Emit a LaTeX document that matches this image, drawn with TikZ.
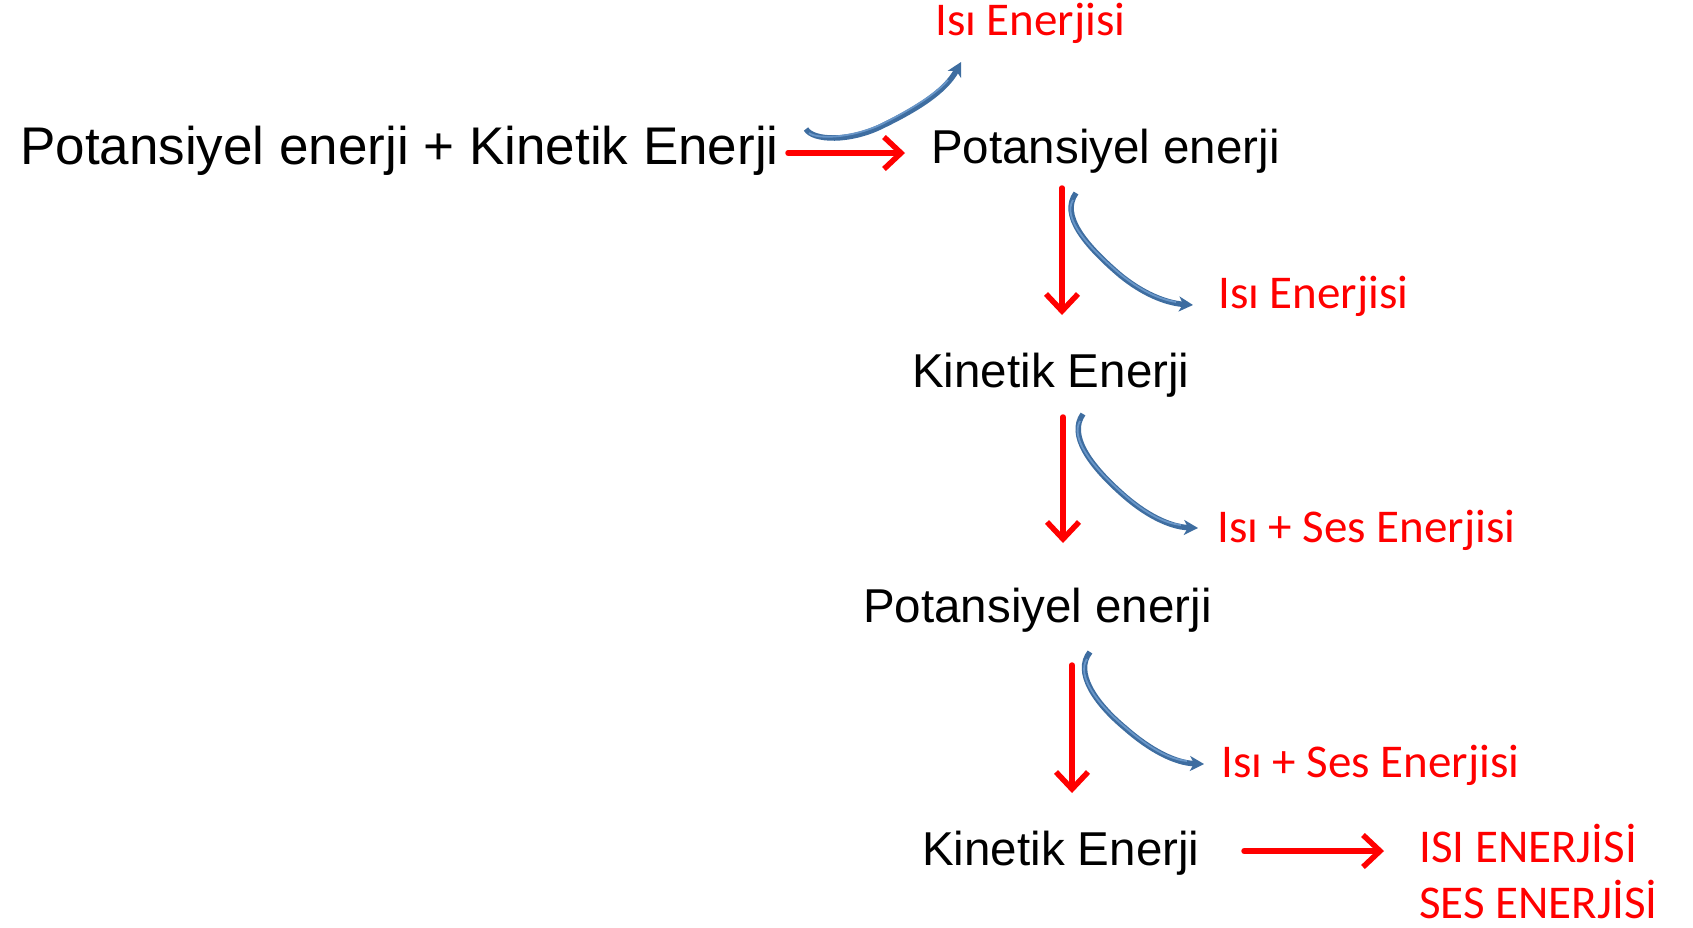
\documentclass[tikz,border=0pt]{standalone}
\usepackage{fontspec}
\setmainfont{Liberation Sans}
\newfontfamily\calib{Carlito}
\usetikzlibrary{arrows.meta}
\definecolor{redarr}{RGB}{255,0,0}
\definecolor{bluedark}{RGB}{62,109,160}
\definecolor{bluelight}{RGB}{105,150,200}
\tikzset{
  blk/.style={inner sep=0pt, anchor=base west, font=\fontsize{47.5}{57}\selectfont, text=black},
  blkbig/.style={inner sep=0pt, anchor=base west, font=\fontsize{53}{63}\selectfont, text=black},
  lbl/.style={inner sep=0pt, anchor=base west, font=\calib\fontsize{47}{56}\selectfont, text=redarr},
  redarrow/.style={draw=redarr, line width=5.5pt, line cap=round, -{Straight Barb[length=17pt,width=32pt]}},
  bluearrow/.style={draw=bluedark, line width=5.5pt, -{Stealth[length=14pt,width=15pt,inset=4pt]}},
  bluehi/.style={draw=bluelight, line width=1.8pt},
}
\begin{document}
\begin{tikzpicture}[x=1pt,y=-1pt]
\useasboundingbox (0,0) rectangle (1693,927);
% black nodes
\node[blkbig] (t1) at (20,164) {Potansiyel enerji + Kinetik Enerji};
\node[blk] (t2) at (931,163) {Potansiyel enerji};
\node[blk] (t3) at (912,387) {Kinetik Enerji};
\node[blk] (t4) at (863,622) {Potansiyel enerji};
\node[blk] (t5) at (922,865) {Kinetik Enerji};
% red labels
\node[lbl] (h1) at (935,35) {Isı Enerjisi};
\node[lbl] (h2) at (1218,308) {Isı Enerjisi};
\node[lbl] (h3) at (1217,542) {Isı + Ses Enerjisi};
\node[lbl] (h4) at (1221,777) {Isı + Ses Enerjisi};
\node[lbl] (h5) at (1419,862) {ISI ENERJİSİ};
\node[lbl] (h6) at (1419,918) {SES ENERJİSİ};
% red arrow end points
\coordinate (r1s) at (788,153);
\coordinate (r1e) at (905,153);
\coordinate (r2s) at (1062,188);
\coordinate (r2e) at (1062,315);
\coordinate (r3s) at (1063,417);
\coordinate (r3e) at (1063,543);
\coordinate (r4s) at (1072,665);
\coordinate (r4e) at (1072,793);
\coordinate (r5s) at (1244,851);
\coordinate (r5e) at (1384,851);
\draw[redarrow] (r1s) -- (r1e);
\draw[redarrow] (r2s) -- (r2e);
\draw[redarrow] (r3s) -- (r3e);
\draw[redarrow] (r4s) -- (r4e);
\draw[redarrow] (r5s) -- (r5e);
% blue curved arrows
\coordinate (b1s) at (806,129);
\coordinate (b1e) at (961,62);
\coordinate (b2s) at (1076,193);
\coordinate (b2e) at (1193,305);
\coordinate (b3s) at (1083,414);
\coordinate (b3e) at (1198,528);
\coordinate (b4s) at (1090,652);
\coordinate (b4e) at (1204,764);
\draw[bluearrow] (b1s) .. controls (813,141) and (850,142) .. (882,126) .. controls (915,110) and (945,92) .. (b1e);
\draw[bluehi] (809,133) .. controls (816,139) and (850,139) .. (882,124) .. controls (910,110) and (936,94) .. (948,80);
\draw[bluearrow] (b2s) .. controls (1060,215) and (1085,245) .. (1120,275) .. controls (1142,293) and (1165,303) .. (b2e);
\draw[bluehi] (1073,200) .. controls (1062,218) and (1087,246) .. (1120,274) .. controls (1140,290) and (1158,299) .. (1176,302);
\draw[bluearrow] (b3s) .. controls (1068,435) and (1090,465) .. (1120,492) .. controls (1145,515) and (1170,527) .. (b3e);
\draw[bluehi] (1080,421) .. controls (1070,438) and (1092,466) .. (1120,491) .. controls (1143,512) and (1163,523) .. (1181,525);
\draw[bluearrow] (b4s) .. controls (1074,672) and (1095,703) .. (1125,728) .. controls (1150,750) and (1175,763) .. (b4e);
\draw[bluehi] (1087,659) .. controls (1076,675) and (1097,704) .. (1125,727) .. controls (1148,747) and (1168,759) .. (1187,761);
\end{tikzpicture}
\end{document}
